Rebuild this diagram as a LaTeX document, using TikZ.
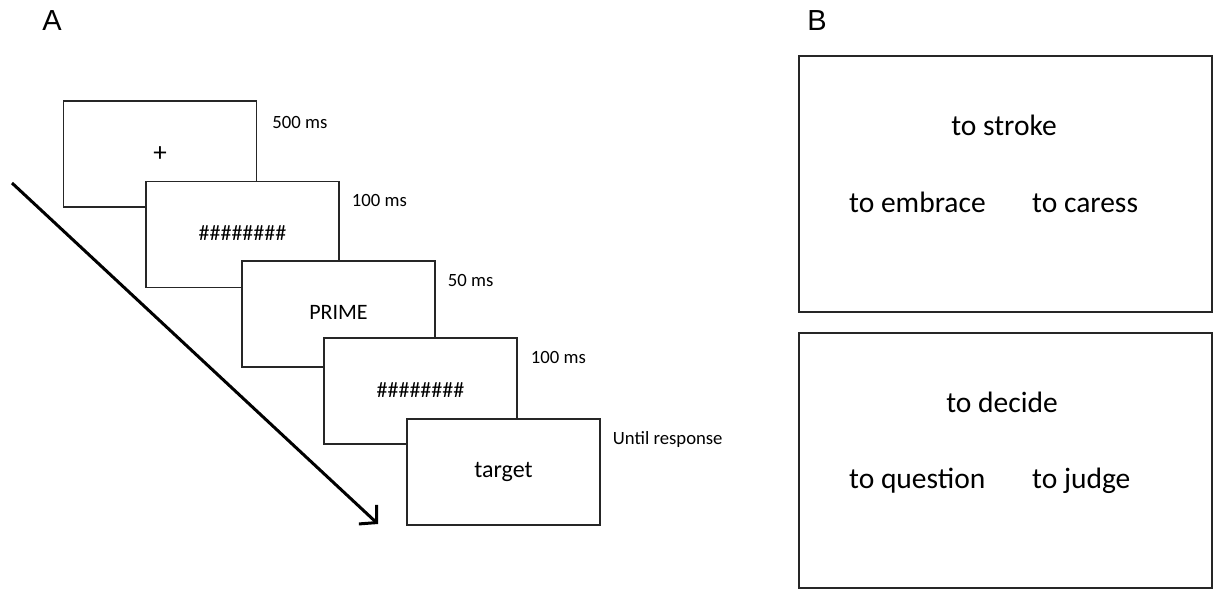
\documentclass[tikz,border=0pt]{standalone}
\usepackage{fontspec}
\setmainfont{Carlito}
\newfontfamily\labfont{Liberation Sans}
\usetikzlibrary{arrows.meta}
\tikzset{
  frame/.style={draw=black!85, line width=1.5pt, fill=white, rectangle, inner sep=0pt,
    minimum width=193pt, minimum height=106pt, font=\fontsize{22}{26}\selectfont},
  timelab/.style={anchor=west, inner sep=0pt, font=\fontsize{18.7}{22}\selectfont},
  panel/.style={draw=black!85, line width=1.5pt},
  word/.style={inner sep=0pt, font=\fontsize{29.5}{34}\selectfont},
  plab/.style={inner sep=0pt, font=\labfont\fontsize{29}{34}\selectfont},
}
\begin{document}
\begin{tikzpicture}[x=1pt,y=-1pt]
\useasboundingbox (0,0) rectangle (1216,589);
% panel labels
\node[plab] (labA) at (52,21) {A};
\node[plab] (labB) at (817,21) {B};
% arrow
\coordinate (as) at (12,183);
\coordinate (ae) at (378,524);
\draw[line width=3pt, -{Straight Barb[length=12pt,width=26pt]}] (as) -- (ae);
% frames
\node[frame] (f1) at (160,154) {\fontsize{27}{30}\selectfont +};
\node[frame] (f2) at (242.5,234.5) {\raisebox{3pt}{\#\#\#\#\#\#\#\#}};
\node[frame] (f3) at (338.5,314) {\raisebox{3pt}{PRIME}};
\node[frame] (f4) at (420.5,391) {\raisebox{2pt}{\#\#\#\#\#\#\#\#}};
\node[frame] (f5) at (503.5,472) {\raisebox{2pt}{\fontsize{24}{28}\selectfont target}};
% durations
\node[timelab] at ([xshift=15pt,yshift=-22pt]f1.north east) {500 ms};
\node[timelab] at ([xshift=12pt,yshift=-20pt]f2.north east) {100 ms};
\node[timelab] at ([xshift=12pt,yshift=-20pt]f3.north east) {50 ms};
\node[timelab] at ([xshift=13pt,yshift=-20pt]f4.north east) {100 ms};
\node[timelab] at ([xshift=12pt,yshift=-21pt]f5.north east) {Until response};
% panel B
\draw[panel] (799,56) rectangle (1212,312);
\draw[panel] (799,333) rectangle (1212,588);
\node[word, anchor=base] (w1) at (1004,135) {to stroke};
\node[word, anchor=base west] (w2) at (849,212) {to embrace};
\node[word, anchor=base west] (w3) at (1032,212) {to caress};
\node[word, anchor=base] (w4) at (1002,412) {to decide};
\node[word, anchor=base west] (w5) at (849,488) {to question};
\node[word, anchor=base west] (w6) at (1032,488) {to judge};
\end{tikzpicture}
\end{document}
